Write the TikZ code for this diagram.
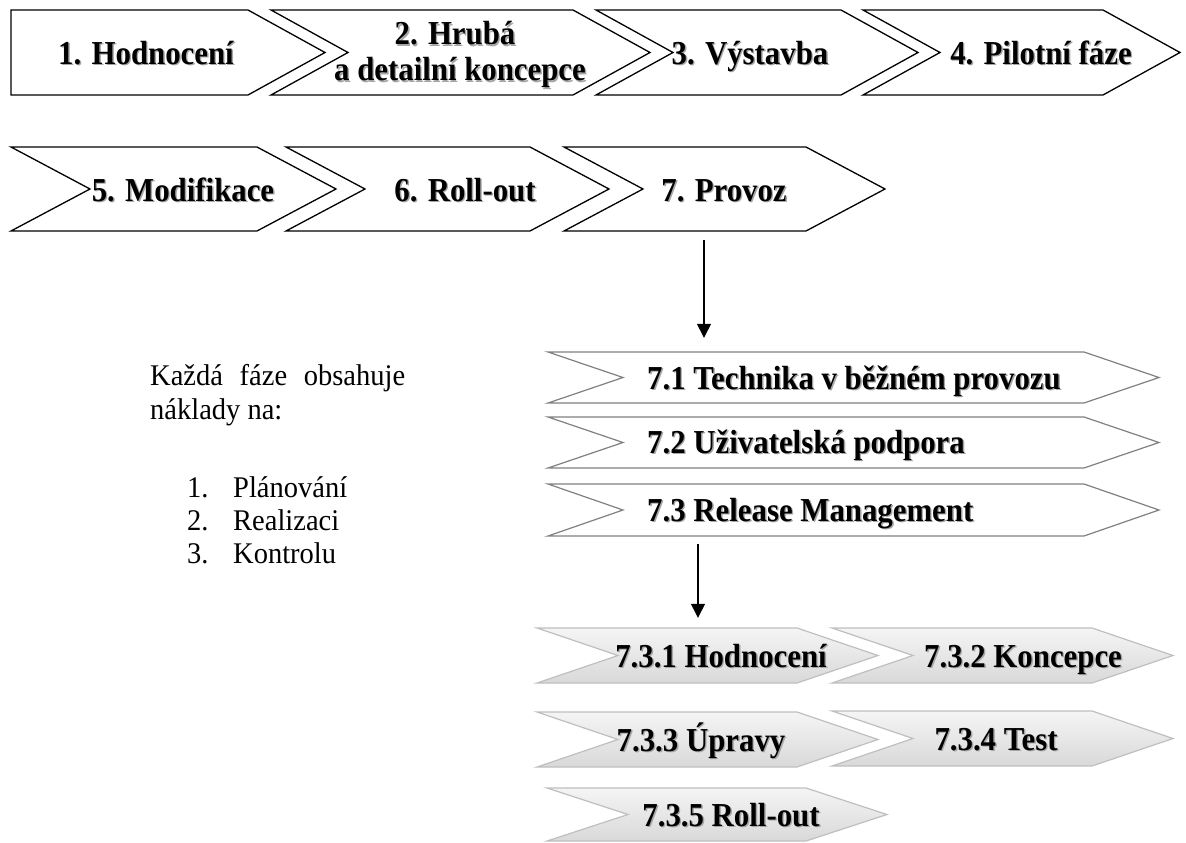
\documentclass[tikz,border=0pt]{standalone}
\usepackage{fontspec}
\setmainfont{Liberation Serif}
\newfontfamily\lblfont{Liberation Serif}[FakeStretch=0.92]
\newfontfamily\notefont{Liberation Serif}[FakeStretch=0.95]
\usetikzlibrary{arrows.meta,fit}

% bold label with a soft grey drop shadow
\newcommand\shd[1]{\makebox[0pt][l]{\hspace{1.4pt}\raisebox{-1.4pt}{\textcolor{black!35}{#1}}}#1}

% chevron outline: #1 style, #2 name, #3 left x, #4 shoulder x, #5 top y, #6 bottom y, #7 point depth
\newcommand\chevbox[7]{%
  \draw[#1] (#3,#5) -- (#4,#5) -- ({#4+#7},{(#5+#6)/2}) -- (#4,#6) -- (#3,#6)
    -- ({#3+#7},{(#5+#6)/2}) -- cycle;
  \node[fit={(#3,#5) (#4,#6)}, inner sep=0pt] (#2) {};}

\begin{document}
\begin{tikzpicture}[x=1pt,y=-1pt,
  phase/.style={draw=black, line width=1.3pt, fill=white},
  subphase/.style={draw=black!50, line width=1.2pt, fill=white},
  task/.style={draw=black!25, line width=1.2pt, top color=black!4, bottom color=black!15},
  lbl/.style={font=\lblfont\fontsize{33.5}{36}\selectfont\bfseries, inner sep=0pt, anchor=base},
  body/.style={font=\notefont\fontsize{30}{34}\selectfont, inner sep=0pt, anchor=base west},
  arr/.style={line width=1.4pt, -{Triangle[width=14pt,length=14pt]}}]

\useasboundingbox (0,0) rectangle (1186,843);

% ---- main phases, first row
\draw[phase] (11,10) -- (248,10) -- (325,52.5) -- (248,95) -- (11,95) -- cycle;
\node[fit={(11,10) (248,95)}, inner sep=0pt] (b1) {};
\chevbox{phase}{b2}{271}{573}{10}{95}{77}
\chevbox{phase}{b3}{596}{841}{10}{95}{77}
\chevbox{phase}{b4}{863}{1103}{10}{95}{77}

\node[lbl] (l1) at (146,64) {\shd{1. Hodnocení}};
\node[lbl] (l2a) at (455,45) {\shd{2. Hrubá}};
\node[lbl] (l2b) at (460,81) {\shd{a detailní koncepce}};
\node[lbl] (l3) at (750,64) {\shd{3. Výstavba}};
\node[lbl] (l4) at (1041,64) {\shd{4. Pilotní fáze}};

% ---- main phases, second row
\chevbox{phase}{b5}{11}{257}{147}{231}{79}
\chevbox{phase}{b6}{286}{530}{147}{231}{79}
\chevbox{phase}{b7}{564}{806}{147}{231}{79}

\node[lbl] (l5) at (183,201) {\shd{5. Modifikace}};
\node[lbl] (l6) at (465,201) {\shd{6. Roll-out}};
\node[lbl] (l7) at (724,201) {\shd{7. Provoz}};

% ---- parts of operation
\chevbox{subphase}{s1}{548}{1084}{352}{403}{75}
\chevbox{subphase}{s2}{548}{1084}{417}{468}{75}
\chevbox{subphase}{s3}{548}{1084}{484}{536}{75}

\node[lbl, anchor=base west] (m1) at (647,389.5) {\shd{7.1 Technika v běžném provozu}};
\node[lbl, anchor=base west] (m2) at (647,453.5) {\shd{7.2 Uživatelská podpora}};
\node[lbl, anchor=base west] (m3) at (647,521.5) {\shd{7.3 Release Management}};

% ---- release management steps
\chevbox{task}{t1}{537}{797}{628}{683}{81}
\chevbox{task}{t2}{832}{1092}{628}{683}{81}
\chevbox{task}{t3}{537}{797}{712}{767}{81}
\chevbox{task}{t4}{832}{1092}{711}{766}{81}
\chevbox{task}{t5}{547}{806}{788}{841}{81}

\node[lbl] (n1) at (721,667) {\shd{7.3.1 Hodnocení}};
\node[lbl] (n2) at (1023,667) {\shd{7.3.2 Koncepce}};
\node[lbl] (n3) at (701,751) {\shd{7.3.3 Úpravy}};
\node[lbl] (n4) at (996,750) {\shd{7.3.4 Test}};
\node[lbl] (n5) at (731,826.5) {\shd{7.3.5 Roll-out}};

% ---- connectors
\coordinate (ax1) at (704,0);
\coordinate (ax2) at (698,0);
\draw[arr, shorten <=9pt, shorten >=14pt] (b7.south -| ax1) -- (s1.north -| ax1);
\draw[arr, shorten <=8pt, shorten >=10pt] (s3.south -| ax2) -- (t1.north -| ax2);

% ---- note on costs
\node[body] (p1) at (150,385) {\makebox[255pt][s]{Každá\hfill fáze\hfill obsahuje}};
\node[body] (p2) at (150,419) {náklady na:};
\node[body] (k1) at (187,497) {1.};
\node[body] (k2) at (187,530) {2.};
\node[body] (k3) at (187,563) {3.};
\node[body] (i1) at (233,497) {Plánování};
\node[body] (i2) at (233,530) {Realizaci};
\node[body] (i3) at (233,563) {Kontrolu};
\end{tikzpicture}
\end{document}
